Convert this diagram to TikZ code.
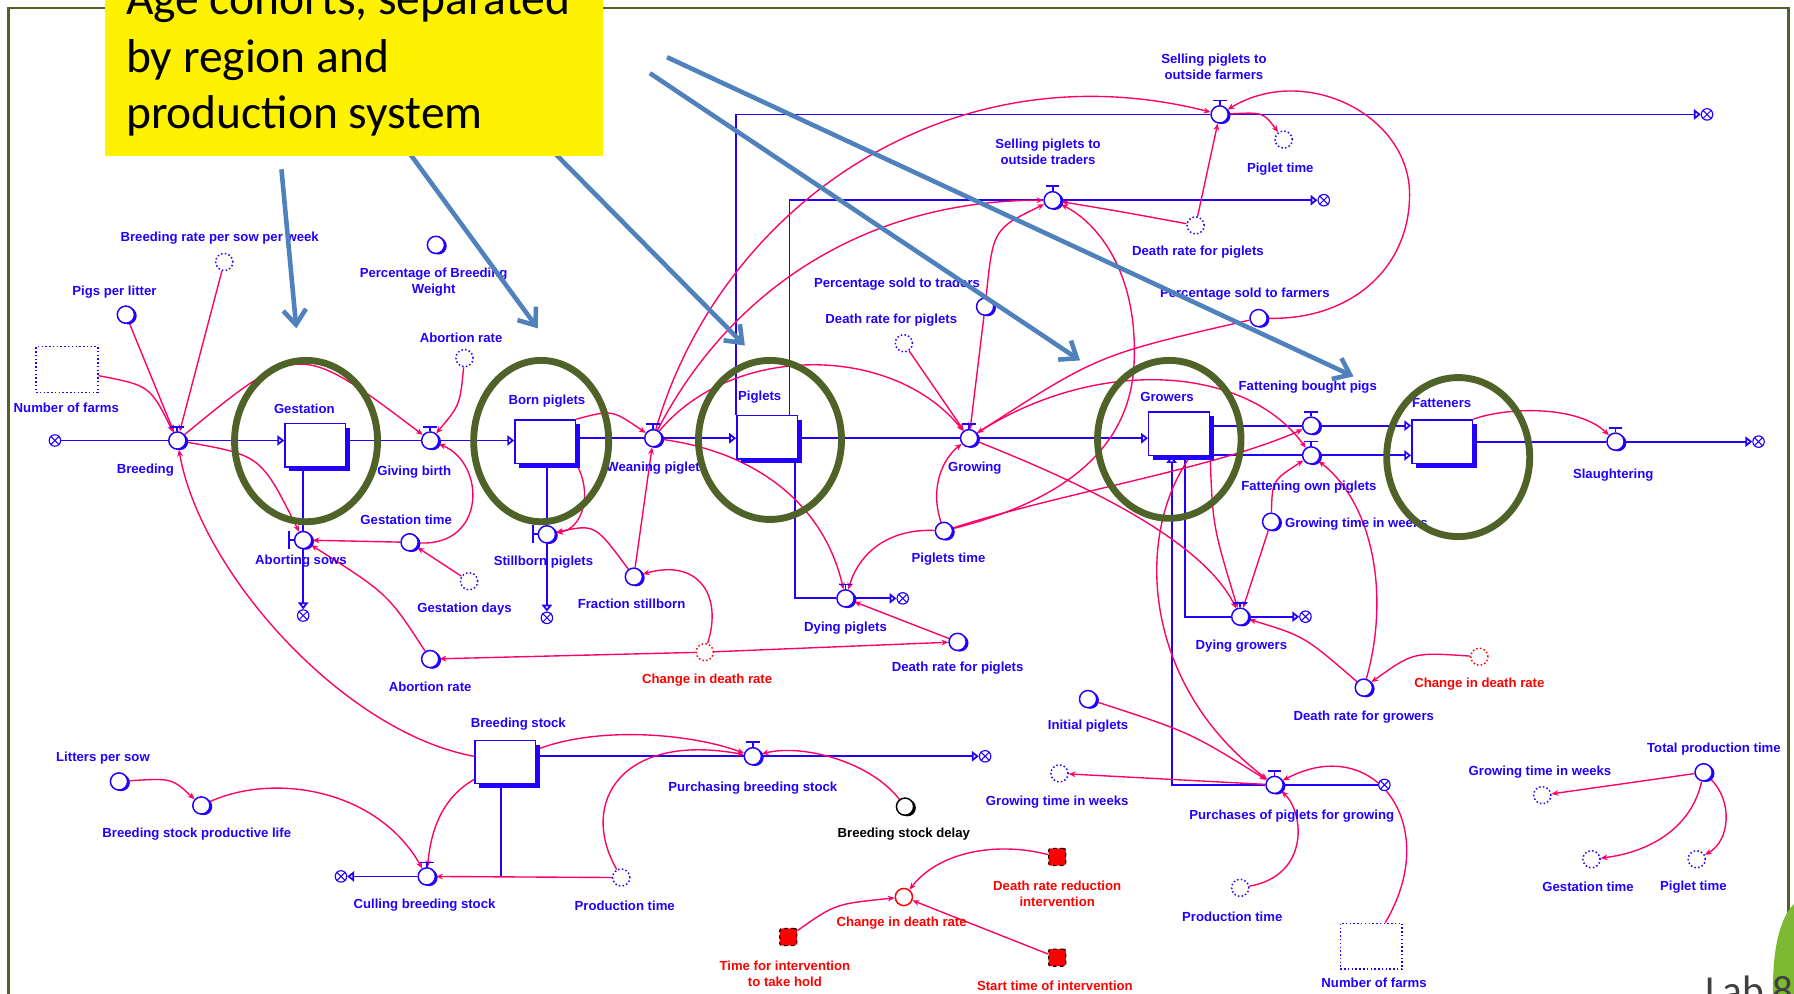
\documentclass[tikz,border=0pt]{standalone}
\usepackage{fontspec}
\setmainfont{Liberation Sans}
\newfontfamily\calibri{Carlito}
\usetikzlibrary{arrows.meta,backgrounds}

\definecolor{vblue}{RGB}{34,0,255}
\definecolor{lpink}{RGB}{255,0,102}
\definecolor{vred}{RGB}{255,0,0}
\definecolor{olive}{RGB}{79,98,40}
\definecolor{steel}{RGB}{79,129,189}
\definecolor{blobgreen}{RGB}{125,185,50}

\newcommand{\labf}{\fontsize{11.5}{14}\selectfont\bfseries}
\newcommand{\yelf}{\calibri\fontsize{41.5}{49}\selectfont}

% Vensim-like symbols
\newcommand{\vstock}[2]{\node[stocksh] at (#2) {};\node[stockbox] (#1) at (#2) {};}
\newcommand{\vaux}[2]{\node[auxsh] at (#2) {};\node[auxc] (#1) at (#2) {};}
\newcommand{\vvalve}[2]{\vaux{#1}{#2}\draw[flowl] (#1.north) -- ++(0,-4) ++(-6,0) -- ++(12,0);}
\newcommand{\vvalvev}[2]{\vaux{#1}{#2}\draw[flowl] (#1.west) -- ++(-4,0) ++(0,-8) -- ++(0,16);}
\newcommand{\vcloud}[2]{\node[cloudc] (#1) at (#2) {};\draw[vblue,line width=0.9pt] (#1.45) -- (#1.225) (#1.135) -- (#1.315);}

\begin{document}
\begin{tikzpicture}[x=1pt,y=-1pt,
  flowl/.style={draw=vblue,line width=1.6pt},
  tri/.style={-{Triangle[length=6pt,width=9pt,fill=white]}},
  link/.style={draw=lpink,line width=1.2pt,-{Stealth[length=6pt,width=5pt]}},
  auxc/.style={circle,draw=vblue,line width=1.3pt,fill=white,minimum size=15pt,inner sep=0pt},
  auxsh/.style={circle,fill=vblue,minimum size=15pt,inner sep=0pt,xshift=2pt,yshift=-1pt},
  shadowc/.style={circle,draw=vblue,dotted,line width=1.3pt,fill=white,minimum size=15pt,inner sep=0pt},
  stockbox/.style={rectangle,draw=vblue,line width=1.3pt,fill=white,minimum width=53pt,minimum height=38pt,inner sep=0pt},
  stocksh/.style={rectangle,fill=vblue,minimum width=53pt,minimum height=38pt,inner sep=0pt,xshift=4pt,yshift=-4pt},
  cloudc/.style={circle,draw=vblue,line width=1pt,fill=white,minimum size=10pt,inner sep=0pt},
  farmsq/.style={rectangle,draw=vblue,dotted,line width=1.3pt,minimum width=54pt,minimum height=40pt,inner sep=0pt},
  rsq/.style={rectangle,rounded corners=2pt,fill=vred,draw=black,dashed,line width=1pt,minimum size=15pt,inner sep=0pt},
  lab/.style={font=\labf,text=vblue,inner sep=1pt,align=center},
  cohort/.style={draw=olive,line width=6pt},
  callout/.style={draw=steel,line width=4pt,-{Straight Barb[length=13pt,width=20pt]}}]

\useasboundingbox (0,0) rectangle (1568,868);
\clip (0,0) rectangle (1568,868);
\begin{pgfonlayer}{background}
  \fill[white] (0,0) rectangle (1568,868);
\end{pgfonlayer}

% ---------- stocks ----------
\vstock{gest}{275.5,389}
\vstock{born}{476.5,386}
\vstock{piglets}{670.5,382}
\vstock{growers}{1030.5,379}
\vstock{fatt}{1260.5,386}
\vstock{bstock}{441.5,666}

% ---------- valves ----------
\vvalve{breed}{155,385}
\vvalve{gbirth}{376,385}
\vvalve{wean}{571,383}
\vvalve{grow}{847,383}
\vvalve{fatb}{1146,372}
\vvalve{fato}{1146,398}
\vvalve{slau}{1412,386}
\vvalve{sellf}{1066,100}
\vvalve{sellt}{920,175}
\vvalve{dyingp}{739,523}
\vvalve{dyingg}{1084,539}
\vvalve{purch}{1114,686}
\vvalve{purbs}{658,661}
\vvalve{cull}{373,766}
\vvalvev{abort}{265,472}
\vvalvev{still}{478,467}

% ---------- clouds ----------
\vcloud{cbreed}{48,385}
\vcloud{cslau}{1537,386}
\vcloud{csellf}{1492,100}
\vcloud{csellt}{1157,175}
\vcloud{cdyingp}{789,523}
\vcloud{cdyingg}{1141,539}
\vcloud{cpurch}{1210,686}
\vcloud{cpurbs}{861,661}
\vcloud{ccull}{298,766}
\vcloud{cabort}{265,538}
\vcloud{cstill}{478,540}

% ---------- auxiliaries ----------
\vaux{pigsLitter}{110,275}
\vaux{pctBreedW}{381,214}
\vaux{gestTime}{358,474}
\vaux{abortRate}{376,576}
\vaux{fracStill}{554,504}
\vaux{pigletsTime}{825,464}
\vaux{drp}{837,561}
\vaux{initP}{951,611}
\vaux{pctSoldT}{861,268}
\vaux{pctSoldF}{1100,278}
\vaux{growTimeW}{1111,456}
\vaux{drg}{1192,601}
\vaux{littersSow}{104,683}
\vaux{bspl}{176,704}
\vaux{tpt}{1489,675}
\node[auxsh,fill=black] at (791,705) {};
\node[auxc,draw=black] (bsDelay) at (791,705) {};
\node[auxc,draw=vred] (cdr3) at (790,784) {};

% ---------- shadow variables ----------
\node[shadowc] (breedRate) at (196,229) {};
\node[shadowc] (abortRateTop) at (406,313) {};
\node[shadowc] (gestDays) at (410,508) {};
\node[shadowc,draw=vred] (cdr1) at (616,570) {};
\node[shadowc] (drpTop) at (790,300) {};
\node[shadowc] (drp2) at (1045,197) {};
\node[shadowc] (pigletTimeTop) at (1122,122) {};
\node[shadowc,draw=vred] (cdr2) at (1293,574) {};
\node[shadowc] (prodTime1) at (543,767) {};
\node[shadowc] (gtw2) at (926,676) {};
\node[shadowc] (prodTime2) at (1084,776) {};
\node[shadowc] (gtw3) at (1348,695) {};
\node[shadowc] (gt3) at (1391,751) {};
\node[shadowc] (pt3) at (1483,751) {};
\node[farmsq] (nfarms1) at (58.5,323) {};
\node[farmsq] (nfarms2) at (1198.5,827) {};

% ---------- intervention constants ----------
\node[rsq] (drr) at (924,749) {};
\node[rsq] (tfi) at (689,819) {};
\node[rsq] (sti) at (924,837) {};

% ---------- labels ----------
\node[lab] (t1) at (192,208) {Breeding rate per sow per week};
\node[lab] (t2) at (100,255) {Pigs per litter};
\node[lab] (t3) at (379,247) {Percentage of Breeding\\Weight};
\node[lab] (t4) at (58,356) {Number of farms};
\node[lab] (t5) at (127,411) {Breeding};
\node[lab] (t6) at (266,357) {Gestation};
\node[lab] (t7) at (362,413) {Giving birth};
\node[lab] (t8) at (478,351) {Born piglets};
\node[lab] (t9) at (403,295) {Abortion rate};
\node[lab] (t10) at (574,409) {Weaning piglets};
\node[lab] (t11) at (664,347) {Piglets};
\node[lab] (t12) at (852,409) {Growing};
\node[lab] (t13) at (1020,347) {Growers};
\node[lab] (t14) at (1143,338) {Fattening bought pigs};
\node[lab] (t15) at (1260,352) {Fatteners};
\node[lab] (t16) at (1410,415) {Slaughtering};
\node[lab] (t17) at (1144,426) {Fattening own piglets};
\node[lab] (t18) at (1061,58) {Selling piglets to\\outside farmers};
\node[lab] (t19) at (916,133) {Selling piglets to\\outside traders};
\node[lab] (t20) at (1119,148) {Piglet time};
\node[lab] (t21) at (1047,220) {Death rate for piglets};
\node[lab] (t22) at (784,248) {Percentage sold to traders};
\node[lab] (t23) at (779,280) {Death rate for piglets};
\node[lab] (t24) at (1088,257) {Percentage sold to farmers};
\node[lab] (t25) at (355,454) {Gestation time};
\node[lab] (t26) at (406,532) {Gestation days};
\node[lab] (t27) at (263,490) {Aborting sows};
\node[lab] (t28) at (475,491) {Stillborn piglets};
\node[lab] (t29) at (376,600) {Abortion rate};
\node[lab] (t30) at (552,528) {Fraction stillborn};
\node[lab,text=vred] (t31) at (618,594) {Change in death rate};
\node[lab] (t32) at (829,489) {Piglets time};
\node[lab] (t33) at (739,549) {Dying piglets};
\node[lab] (t34) at (837,584) {Death rate for piglets};
\node[lab] (t35) at (951,635) {Initial piglets};
\node[lab,anchor=west] (t36) at (1122,458) {Growing time in weeks};
\node[lab] (t37) at (1085,565) {Dying growers};
\node[lab] (t38) at (1192,627) {Death rate for growers};
\node[lab,text=vred] (t39) at (1293,598) {Change in death rate};
\node[lab] (t40) at (453,633) {Breeding stock};
\node[lab] (t41) at (90,663) {Litters per sow};
\node[lab] (t42) at (172,729) {Breeding stock productive life};
\node[lab] (t43) at (371,791) {Culling breeding stock};
\node[lab] (t44) at (546,792) {Production time};
\node[lab] (t45) at (658,689) {Purchasing breeding stock};
\node[lab,text=black] (t46) at (790,729) {Breeding stock delay};
\node[lab] (t47) at (924,701) {Growing time in weeks};
\node[lab] (t48) at (1129,713) {Purchases of piglets for growing};
\node[lab] (t49) at (1077,801) {Production time};
\node[lab] (t50) at (1201,859) {Number of farms};
\node[lab,text=vred] (t51) at (788,807) {Change in death rate};
\node[lab,text=vred] (t52) at (924,781) {Death rate reduction\\intervention};
\node[lab,text=vred] (t53) at (686,851) {Time for intervention\\to take hold};
\node[lab,text=vred] (t54) at (922,862) {Start time of intervention};
\node[lab] (t55) at (1498,655) {Total production time};
\node[lab] (t56) at (1346,675) {Growing time in weeks};
\node[lab] (t57) at (1388,775) {Gestation time};
\node[lab] (t58) at (1480,775) {Piglet time};

\begin{pgfonlayer}{background}
% ---------- material flows ----------
\draw[flowl] (cbreed) -- (breed);
\draw[flowl,tri] (breed) -- (gest.west |- breed);
\draw[flowl] (gest.east |- gbirth) -- (gbirth);
\draw[flowl,tri] (gbirth) -- (born.west |- gbirth);
\draw[flowl] (born.east |- wean) -- (wean);
\draw[flowl,tri] (wean) -- (piglets.west |- wean);
\draw[flowl] (piglets.east |- grow) -- (grow);
\draw[flowl,tri] (grow) -- (growers.west |- grow);
\draw[flowl] (growers.east |- fatb) -- (fatb);
\draw[flowl,tri] (fatb) -- (fatt.west |- fatb);
\draw[flowl] (growers.east |- fato) -- (fato);
\draw[flowl,tri] (fato) -- (fatt.west |- fato);
\draw[flowl] (fatt.east |- slau) -- (slau);
\draw[flowl,tri] (slau) -- (cslau);
\draw[flowl] (piglets.north west) |- (sellf);
\draw[flowl,tri] (sellf) -- (csellf);
\draw[flowl] ([xshift=19.5pt]piglets.north) |- (sellt);
\draw[flowl,tri] (sellt) -- (csellt);
\draw[flowl] ([xshift=24.5pt]piglets.south) |- (dyingp);
\draw[flowl,tri] (dyingp) -- (cdyingp);
\draw[flowl] ([xshift=5.5pt]growers.south) |- (dyingg);
\draw[flowl,tri] (dyingg) -- (cdyingg);
\draw[flowl] (cpurch) -- (purch);
\draw[flowl,tri] (purch) -| ([xshift=-6.5pt]growers.south);
\draw[flowl] (gest.south -| abort) -- (abort);
\draw[flowl,tri] (abort) -- (cabort);
\draw[flowl] (born.south -| still) -- (still);
\draw[flowl,tri] (still) -- (cstill);
\draw[flowl] (bstock.east |- purbs) -- (purbs);
\draw[flowl,tri] (purbs) -- (cpurbs);
\coordinate (bsj) at (438,766);
\draw[flowl] (bstock.south -| bsj) -- (bsj) -- (cull);
\draw[flowl,tri] (cull) -- (ccull);

% ---------- information links ----------
\draw[link] (nfarms1) .. controls (131,337) .. (breed);
\draw[link] (pigsLitter) -- (breed);
\draw[link] (breedRate) -- (breed);
\draw[link] (breed) .. controls (261,298) .. (gbirth);
\draw[link] (abortRateTop) .. controls (402,354) .. (gbirth);
\draw[link] (breed) .. controls (228,398) .. (abort);
\draw[link] (bstock) .. controls (300,640) and (175,500) .. (breed);
\draw[link] (gestTime) -- (abort);
\draw[link] (gestDays) -- (gestTime);
\draw[link] (abortRate) .. controls (339,519) .. (abort);
\draw[link] (cdr1) -- (abortRate);
\draw[link] (gestTime) .. controls (425,478) and (425,405) .. (gbirth);
\draw[link] (born.south east) .. controls (518,430) and (510,462) .. (still);
\draw[link] (fracStill) .. controls (520,458) .. (still);
\draw[link] (fracStill) -- (wean);
\draw[link] (cdr1) .. controls (632,520) and (610,488) .. (fracStill);
\draw[link] (cdr1) -- (drp);
\draw[link] (born.north east) .. controls (535,358) .. (wean);
\draw[link] (wean) .. controls (630,180) and (830,40) .. (sellf);
\draw[link] (wean) .. controls (640,250) and (760,175) .. (sellt);
\draw[link] (wean) .. controls (640,300) and (780,300) .. (grow);
\draw[link] (wean) .. controls (660,395) and (720,440) .. (dyingp);
\draw[link] (pigletsTime) .. controls (780,462) and (752,480) .. (dyingp);
\draw[link] (drp) -- (dyingp);
\draw[link] (pigletsTime) .. controls (812,425) and (825,400) .. (grow);
\draw[link] (pigletsTime) .. controls (930,430) and (1060,410) .. (fatb);
\draw[link] (pigletsTime) .. controls (900,445) and (985,410) .. (991,321) .. controls (996,240) and (960,195) .. (sellt);
\draw[link] (drpTop) -- (grow);
\draw[link] (pctSoldT) -- (grow);
\draw[link] (pctSoldT) .. controls (868,200) .. (sellt);
\draw[link] (drp2) .. controls (980,185) .. (sellt);
\draw[link] (drp2) -- (sellf);
\draw[link] (sellf) .. controls (1104,98) .. (pigletTimeTop);
\draw[link] (pctSoldF) .. controls (1180,280) and (1232,235) .. (1232,170) .. controls (1232,100) and (1140,55) .. (sellf);
\draw[link] (pctSoldF) .. controls (960,310) .. (grow);
\draw[link] (grow) .. controls (960,310) and (1090,320) .. (fato);
\draw[link] (grow) .. controls (940,420) and (1050,470) .. (dyingg);
\draw[link] (growers.south east) .. controls (1060,460) .. (dyingg);
\draw[link] (growTimeW) -- (dyingg);
\draw[link] (drg) .. controls (1140,556) .. (dyingg);
\draw[link] (cdr2) .. controls (1235,570) .. (drg);
\draw[link] (drg) .. controls (1215,520) and (1200,440) .. (fato);
\draw[link] (growTimeW) .. controls (1112,420) .. (fato);
\draw[link] ([xshift=10pt]growers.south) .. controls (990,470) and (1000,600) .. (purch);
\draw[link] (fatt.north east) .. controls (1320,355) and (1380,355) .. (slau);
\draw[link] (initP) .. controls (1040,640) .. (purch);
\draw[link] (nfarms2) .. controls (1262,720) and (1200,640) .. (purch);
\draw[link] (prodTime2) .. controls (1145,765) and (1140,710) .. (purch);
\draw[link] (purch) -- (gtw2);
\draw[link] (littersSow) .. controls (150,680) .. (bspl);
\draw[link] (bspl) .. controls (240,675) and (330,690) .. (cull);
\draw[link] (bstock) .. controls (390,695) and (377,720) .. (cull);
\draw[link] (prodTime1) -- (cull);
\draw[link] (bstock) .. controls (520,635) and (600,640) .. (purbs);
\draw[link] (bsDelay) .. controls (760,665) and (700,650) .. (purbs);
\draw[link] (prodTime1) .. controls (505,700) and (545,640) .. (purbs);
\draw[link] (drr) .. controls (870,735) and (820,745) .. (cdr3);
\draw[link] (tfi) .. controls (730,790) .. (cdr3);
\draw[link] (sti) -- (cdr3);
\draw[link] (tpt) -- (gtw3);
\draw[link] (tpt) .. controls (1478,725) and (1440,745) .. (gt3);
\draw[link] (tpt) .. controls (1515,700) and (1512,735) .. (pt3);
\end{pgfonlayer}

% ---------- cohort ellipses ----------
\draw[cohort] (267.5,385.5) ellipse [x radius=62.5, y radius=70.5];
\draw[cohort] (473,385.5) ellipse [x radius=59, y radius=70.5];
\draw[cohort] (673,384.5) ellipse [x radius=62.5, y radius=69.5];
\draw[cohort] (1022,384) ellipse [x radius=62.7, y radius=69];
\draw[cohort] (1274.5,399.5) ellipse [x radius=62.5, y radius=69.5];

% ---------- slide frame and decoration ----------
\draw[olive,line width=2.5pt] (7.3,900) -- (7.3,7) -- (1563.5,7) -- (1563.5,900);
\fill[blobgreen] (1568,790) .. controls (1553,805) and (1548,840) .. (1550,880) -- (1568,880) -- cycle;
\node[anchor=base west,text=black!75,font=\calibri\fontsize{36}{36}\selectfont,inner sep=0pt] (lab8) at (1490,878) {Lab 8};

% ---------- callout ----------
\coordinate (a1s) at (246,148); \coordinate (a1e) at (259,287);
\coordinate (a2s) at (358,134); \coordinate (a2e) at (470,287);
\coordinate (a3s) at (485,134); \coordinate (a3e) at (651,302);
\coordinate (a4s) at (568,64);  \coordinate (a4e) at (944,315);
\coordinate (a5s) at (583,50);  \coordinate (a5e) at (1183,329);
\draw[callout] (a1s) -- (a1e);
\draw[callout] (a2s) -- (a2e);
\draw[callout] (a3s) -- (a3e);
\draw[callout] (a4s) -- (a4e);
\draw[callout] (a5s) -- (a5e);
\fill[yellow] (92,-5) rectangle (527,136);
\node[anchor=base west,font=\yelf,inner sep=0pt] (y1) at (110,13) {Age cohorts, separated};
\node[anchor=base west,font=\yelf,inner sep=0pt] (y2) at (110,63) {by region and};
\node[anchor=base west,font=\yelf,inner sep=0pt] (y3) at (110,112) {production system};
\end{tikzpicture}
\end{document}
